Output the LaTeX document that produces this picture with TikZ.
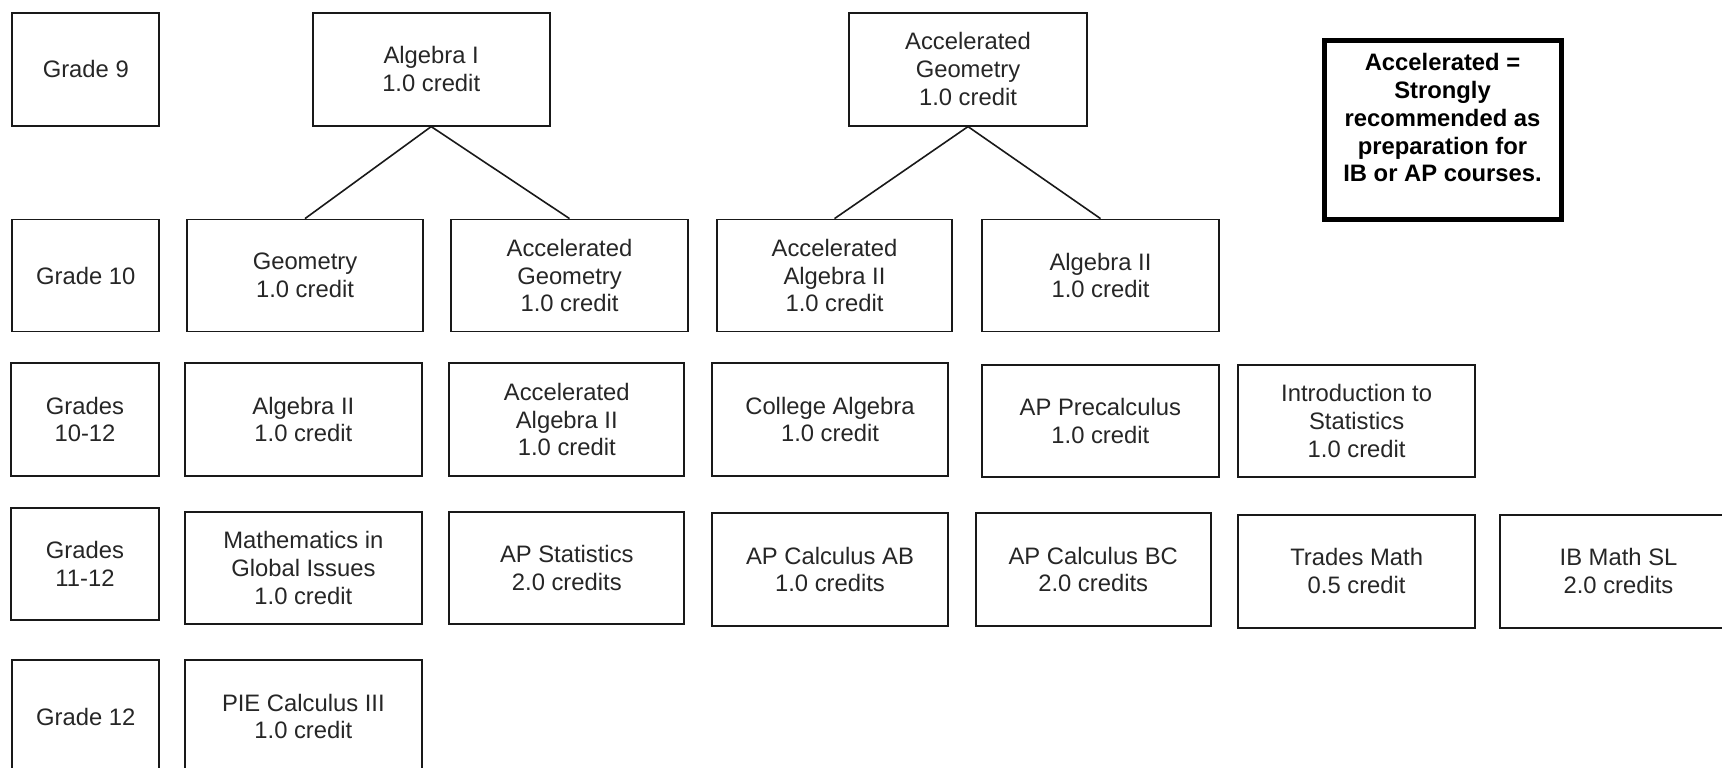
\documentclass[tikz,border=0pt]{standalone}
\usepackage{fontspec}
\setmainfont{Liberation Sans}
\begin{document}
\begin{tikzpicture}[x=1pt,y=-1pt,
  box/.style={draw=black!90, line width=1.8pt, inner sep=0pt, align=center,
    text=black!85, font=\fontsize{23.8}{27.8}\selectfont},
  legendbox/.style={draw=black, line width=5pt, inner sep=0pt},
  legendtext/.style={align=center, inner sep=0pt, text=black,
    font=\fontsize{23.8}{27.8}\selectfont\bfseries},
  link/.style={draw=black!90, line width=1.6pt}]
\useasboundingbox (0,0) rectangle (1722,768);
\clip (0,0) rectangle (1722,768);
% Row 1
\node[box, minimum width=147pt, minimum height=113pt] (g9) at (85.8,69.2) {Grade 9};
\node[box, minimum width=237pt, minimum height=113pt] (alg1) at (431.2,69.2) {Algebra I\\1.0 credit};
\node[box, minimum width=237.4pt, minimum height=113pt] (accgeo1) at (968,69.2) {Accelerated\\Geometry\\1.0 credit};
\node[legendbox, minimum width=237pt, minimum height=179pt] (legend) at (1442.5,130) {};
\node[legendtext] (legendtxt) at (1442.5,117.7) {Accelerated =\\Strongly\\recommended as\\preparation for\\IB or AP courses.};
% Row 2
\node[box, minimum width=147pt, minimum height=112pt] (g10) at (85.8,275.5) {Grade 10};
\node[box, minimum width=236.6pt, minimum height=112pt] (geo) at (305,275.5) {Geometry\\1.0 credit};
\node[box, minimum width=236.4pt, minimum height=112pt] (accgeo2) at (569.5,275.5) {Accelerated\\Geometry\\1.0 credit};
\node[box, minimum width=235pt, minimum height=112pt] (accalg2a) at (834.5,275.5) {Accelerated\\Algebra II\\1.0 credit};
\node[box, minimum width=236.4pt, minimum height=112pt] (alg2a) at (1100.5,275.5) {Algebra II\\1.0 credit};
% Row 3
\node[box, minimum width=148.6pt, minimum height=112.4pt] (g1012) at (85,419.5) {Grades\\10-12};
\node[box, minimum width=236.7pt, minimum height=112.4pt] (alg2b) at (303.35,419.5) {Algebra II\\1.0 credit};
\node[box, minimum width=235pt, minimum height=112.4pt] (accalg2b) at (566.8,419.5) {Accelerated\\Algebra II\\1.0 credit};
\node[box, minimum width=236.6pt, minimum height=112.4pt] (colalg) at (830,419.5) {College Algebra\\1.0 credit};
\node[box, minimum width=236.7pt, minimum height=112.3pt] (precalc) at (1100.35,421.15) {AP Precalculus\\1.0 credit};
\node[box, minimum width=236.7pt, minimum height=112.3pt] (introstat) at (1356.65,421.15) {Introduction to\\Statistics\\1.0 credit};
% Row 4
\node[box, minimum width=148.6pt, minimum height=112.3pt] (g1112) at (85,563.85) {Grades\\11-12};
\node[box, minimum width=236.7pt, minimum height=112pt] (mgi) at (303.35,567.7) {Mathematics in\\Global Issues\\1.0 credit};
\node[box, minimum width=235pt, minimum height=112.3pt] (apstat) at (566.8,567.85) {AP Statistics\\2.0 credits};
\node[box, minimum width=236.6pt, minimum height=112.4pt] (calcab) at (830,569.5) {AP Calculus AB\\1.0 credits};
\node[box, minimum width=235pt, minimum height=112.4pt] (calcbc) at (1093.2,569.5) {AP Calculus BC\\2.0 credits};
\node[box, minimum width=236.7pt, minimum height=112.7pt] (trades) at (1356.65,571.35) {Trades Math\\0.5 credit};
\node[box, minimum width=237pt, minimum height=112.7pt] (ib) at (1618.5,571.35) {IB Math SL\\2.0 credits};
% Row 5
\node[box, minimum width=147pt, minimum height=113pt] (g12) at (85.8,716.5) {Grade 12};
\node[box, minimum width=236.7pt, minimum height=113pt] (pie) at (303.35,716.5) {PIE Calculus III\\1.0 credit};
% Connectors
\draw[link] (alg1.south) -- (geo.north);
\draw[link] (alg1.south) -- (accgeo2.north);
\draw[link] (accgeo1.south) -- (accalg2a.north);
\draw[link] (accgeo1.south) -- (alg2a.north);
\end{tikzpicture}
\end{document}
